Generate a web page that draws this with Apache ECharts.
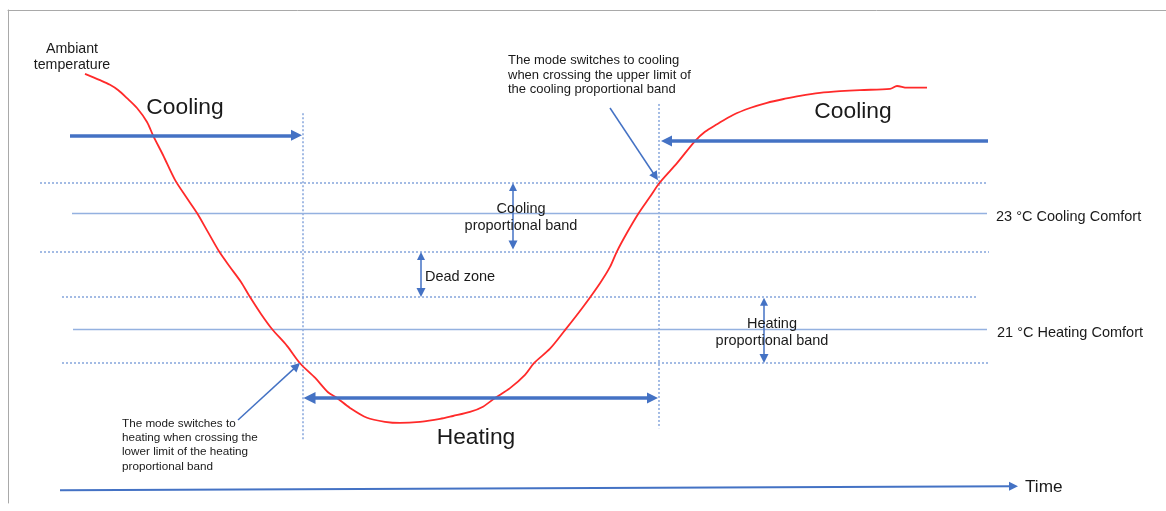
<!DOCTYPE html>
<html><head><meta charset="utf-8">
<script src="https://cdn.jsdelivr.net/npm/echarts@6/dist/echarts.min.js"></script>
<style>html,body{margin:0;padding:0;background:#fff}#chart{width:1166px;height:511px}</style>
</head><body><div id="chart"></div>
<script>
// ---- Ambient temperature curve: time (arbitrary units) and temperature (°C)
const curveTime = [7.7, 9.2, 10.2, 11.0, 11.9, 12.9, 13.9, 14.5, 15.5, 16.7, 17.8, 18.9, 20.0, 21.1, 22.2, 23.3, 24.2, 25.3, 26.4, 27.9, 29.2, 30.7, 32.0, 32.9, 34.2, 35.9, 37.7, 39.2, 41.2, 43.2, 44.5, 46.2, 47.5, 48.7, 50.2, 51.7, 52.6, 54.2, 55.7, 57.5, 59.2, 60.2, 60.9, 61.9, 63.0, 64.2, 65.2, 66.9, 68.7, 69.7, 70.9, 72.5, 74.2, 75.9, 77.7, 79.2, 81.2, 83.2, 85.2, 88.2, 88.9, 89.9, 91.9];
const curveTemp = [25.40, 25.29, 25.21, 25.12, 24.98, 24.81, 24.57, 24.34, 24.00, 23.57, 23.28, 23.00, 22.67, 22.34, 22.07, 21.81, 21.55, 21.26, 21.00, 20.71, 20.41, 20.16, 19.91, 19.81, 19.64, 19.47, 19.40, 19.38, 19.40, 19.45, 19.50, 19.57, 19.66, 19.81, 19.98, 20.21, 20.41, 20.66, 20.98, 21.38, 21.79, 22.07, 22.34, 22.66, 22.98, 23.28, 23.53, 23.86, 24.24, 24.40, 24.53, 24.69, 24.81, 24.90, 24.97, 25.02, 25.07, 25.10, 25.12, 25.14, 25.19, 25.16, 25.16];

// ---- Straight segments: [startTime, startTemp, endTime, endTemp]
const comfortLines = [[6.4, 23.0, 97.9, 23.0], [6.5, 21.0, 97.9, 21.0]];
const bandLimitLines = [[3.2, 23.53, 97.9, 23.53], [3.2, 22.34, 98.1, 22.34], [5.4, 21.55, 97.0, 21.55], [5.4, 20.41, 98.0, 20.41]];
const switchLines = [[29.5, 24.72, 29.5, 19.09], [65.1, 24.88, 65.1, 19.29]];
const coolingArrows = [[6.2, 24.34, 28.85, 24.34], [98.0, 24.24, 65.85, 24.24]];
const heatingArrow = [[30.15, 19.81, 64.45, 19.81]];
const bandArrows = [[50.5, 23.45, 50.5, 22.45], [41.3, 22.26, 41.3, 21.63], [75.6, 21.47, 75.6, 20.49]];
const noteArrows = [[60.2, 24.81, 64.75, 23.63], [23.0, 19.43, 28.87, 20.36]];
const timeArrow = [[5.2, 18.22, 100.55, 18.29]];

// ---- Texts: [text, time, temperature]
const modeLabels = [['Cooling', 17.7, 24.81], ['Cooling', 84.5, 24.74], ['Heating', 46.8, 19.12]];
const upperNote = [['The mode switches to cooling\nwhen crossing the upper limit of\nthe cooling proportional band', 50.0, 25.38]];
const lowerNote = [['The mode switches to\nheating when crossing the\nlower limit of the heating\nproportional band', 11.4, 19.0]];
const bandLabels = [['Cooling\nproportional band', 51.3, 22.93], ['Dead zone', 45.2, 21.90], ['Heating\nproportional band', 76.4, 20.94]];
const comfortLabels = [['23 °C Cooling Comfort', 98.8, 22.93], ['21 °C Heating Comfort', 98.9, 20.93]];
const curveLabels = [['Ambiant\ntemperature', 6.4, 25.69]];
const axisLabels = [['Time', 101.7, 18.28]];

const FONT = '"Liberation Sans", Arial, sans-serif';
const TEXT = '#1a1a1a';
const BLUE = '#4472c4';
const LIGHT = '#85a5dc';

function segs(arr) { return arr.map(a => ({ coords: [[a[0], a[1]], [a[2], a[3]]] })); }
function linesSeries(arr, lineStyle, symbol, symbolSize, z) {
  return { type: 'lines', coordinateSystem: 'cartesian2d', silent: true, z: z || 2,
    data: segs(arr), lineStyle: Object.assign({ opacity: 1, curveness: 0 }, lineStyle),
    symbol: symbol || ['none', 'none'], symbolSize: symbolSize || 0 };
}
function textSeries(arr, label) {
  return { type: 'scatter', symbolSize: 0, silent: true, z: 6,
    itemStyle: { opacity: 1 },
    data: arr.map(d => ({ name: d[0], value: [d[1], d[2]] })),
    label: Object.assign({ show: true, position: 'inside', formatter: '{b}', color: TEXT,
      fontFamily: FONT, align: 'center', verticalAlign: 'middle', opacity: 1 }, label) };
}

const chart = echarts.init(document.getElementById('chart'));
chart.setOption({
  animation: false,
  backgroundColor: '#ffffff',
  grid: { left: 8, right: 0, top: 10, bottom: 8 },
  xAxis: { type: 'value', min: 0, max: 115.8, position: 'top',
    axisLine: { show: true, onZero: false, lineStyle: { color: '#a9a9a9', width: 1 } },
    axisTick: { show: false }, axisLabel: { show: false }, splitLine: { show: false } },
  yAxis: { type: 'value', min: 18, max: 26.5,
    axisLine: { show: true, onZero: false, lineStyle: { color: '#a9a9a9', width: 1 } },
    axisTick: { show: false }, axisLabel: { show: false }, splitLine: { show: false } },
  series: [
    linesSeries(bandLimitLines, { color: LIGHT, width: 1.5, type: [2, 2] }),
    linesSeries(switchLines, { color: LIGHT, width: 1.5, type: [2, 2] }),
    linesSeries(comfortLines, { color: '#94b1e0', width: 1.4 }),
    {
      type: 'line', silent: true, z: 3, showSymbol: false, symbol: 'none',
      smooth: 0.3,
      data: curveTime.map((t, i) => [t, curveTemp[i]]),
      lineStyle: { color: '#ff2a2a', width: 1.8 }
    },
    linesSeries(coolingArrows, { color: BLUE, width: 3.5 }, ['none', 'triangle'], [12, 11], 4),
    linesSeries(heatingArrow, { color: BLUE, width: 3.5 }, ['triangle', 'triangle'], [12, 11], 4),
    linesSeries(bandArrows, { color: BLUE, width: 1.5 }, ['triangle', 'triangle'], [8, 9], 4),
    linesSeries(noteArrows, { color: BLUE, width: 1.5 }, ['none', 'triangle'], [8, 9], 4),
    linesSeries(timeArrow, { color: BLUE, width: 2 }, ['none', 'triangle'], [9, 9], 4),
    textSeries(modeLabels, { fontSize: 22.8 }),
    textSeries(upperNote, { fontSize: 13, lineHeight: 14.5, align: 'left' }),
    textSeries(lowerNote, { fontSize: 11.7, lineHeight: 14.3, align: 'left' }),
    textSeries(bandLabels, { fontSize: 14.5, lineHeight: 17 }),
    textSeries(comfortLabels, { fontSize: 14.5, align: 'left' }),
    textSeries(curveLabels, { fontSize: 14.2, lineHeight: 16 }),
    textSeries(axisLabels, { fontSize: 17.2, align: 'left' })
  ]
});
</script>
</body></html>
